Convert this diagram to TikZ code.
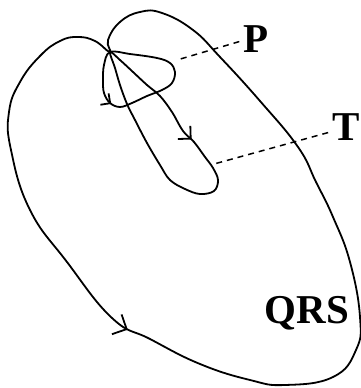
\documentclass[tikz,border=0pt]{standalone}
\usepackage{fontspec}
\setmainfont{Liberation Serif}
\usepackage{tikz}
\usetikzlibrary{arrows.meta, decorations.markings, calc}
\tikzset{
  loopline/.style={line width=1.8pt, line join=round, draw=black},
  midarrow/.style 2 args={
    postaction={decorate},
    decoration={markings,
      mark=at position #1 with {\arrow{Straight Barb[length=#2, width=2*#2, line width=1.8pt]}}}
  },
  wavelabel/.style={font=\fontsize{41}{41}\selectfont\bfseries, anchor=base, inner sep=0pt},
  leader/.style={line width=1.5pt, dash pattern=on 6pt off 5pt},
}

\begin{document}
\begin{tikzpicture}[x=1pt, y=-1pt]
  \useasboundingbox (0,0) rectangle (361,388);

  % Common origin of the loops
  \coordinate (origin) at (110,52);

  % QRS loop
  \draw[loopline, midarrow={0.335}{11pt}] plot[smooth cycle, tension=0.75] coordinates {
    (origin) (95,41) (78,37) (60,41) (40,56) (20,82) (9,112) (11,150)
    (30,210) (67,262) (112,318) (150,339) (200,364) (250,380) (285,385)
    (333,377) (356,350) (360,317) (350,262) (333,217) (316,182) (298,147)
    (260,101) (220,57) (193,30) (162,13) (140,12) (120,22) (108,40)};

  % P loop
  \draw[loopline, midarrow={0.2}{7pt}] plot[smooth cycle, tension=0.6] coordinates {
    (origin) (104,65) (103,80) (104,93) (110,103) (120,107) (132,103)
    (147,96) (162,90) (172,83) (175,72) (170,63) (157,58) (130,54)};

  % T loop
  \draw[loopline, midarrow={0.29}{9pt}] plot[smooth cycle, tension=0.6] coordinates {
    (origin) (120,60) (133,72) (147,85) (160,96) (172,112) (183,131)
    (194,142) (205,157) (213,168) (218,180) (214,191) (200,194) (185,189)
    (170,180) (160,165) (147,143) (135,120) (127,104) (120,85) (115,68)};

  % Labels
  \node[wavelabel] (plabel)   at (256,52)  {P};
  \node[wavelabel] (tlabel)   at (346,140) {T};
  \node[wavelabel] (qrslabel) at (307,323) {QRS};

  % Leader lines
  \coordinate (pend) at (177,60);
  \coordinate (tend) at (214,164);
  \draw[leader] ($(plabel.west)+(-4,3)$) -- (pend);
  \draw[leader] ($(tlabel.west)+(-4,6)$) -- (tend);

\end{tikzpicture}
\end{document}
